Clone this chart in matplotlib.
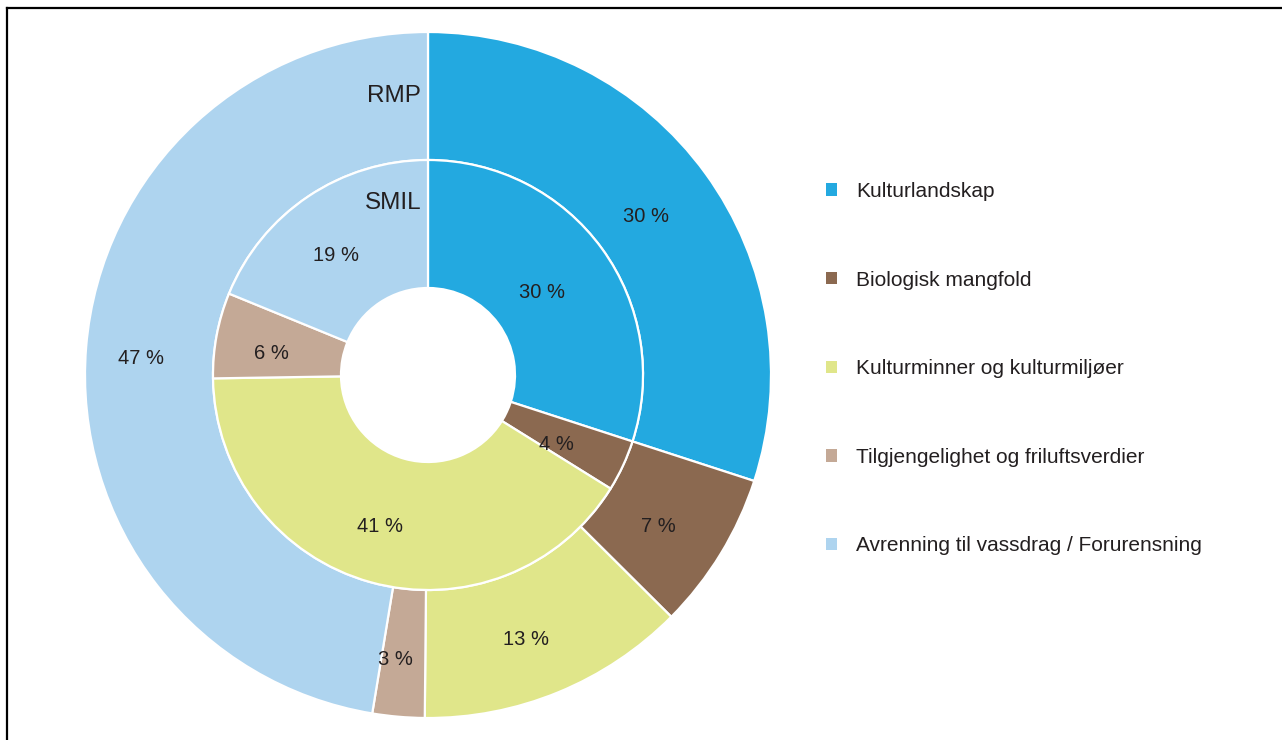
import numpy as np
import matplotlib.pyplot as plt
from matplotlib.patches import Patch
from matplotlib.lines import Line2D

plt.rcParams['font.family'] = ['Liberation Sans', 'DejaVu Sans']

categories = ['Kulturlandskap', 'Biologisk mangfold', 'Kulturminner og kulturmiljøer',
              'Tilgjengelighet og friluftsverdier', 'Avrenning til vassdrag / Forurensning']
# shares as drawn and the printed, rounded labels
rmp = [30.0, 7.45, 12.7, 2.45, 47.4]
rmp_labels = ['30 %', '7 %', '13 %', '3 %', '47 %']
smil = [30.0, 3.86, 40.89, 6.43, 18.82]
smil_labels = ['30 %', '4 %', '41 %', '6 %', '19 %']
colors = ['#23a9e0', '#8b6950', '#e0e68a', '#c4a996', '#aed4ef']
txt = '#231f20'

W, H = 1282, 740
fig = plt.figure(figsize=(W / 100, H / 100), dpi=100)

# pie axes: centre (428, 375) px, outer radius 343 px
cx, cy, R = 428, 375, 343
ax = fig.add_axes([(cx - R) / W, (H - cy - R) / H, 2 * R / W, 2 * R / H])

ring = (343 - 215) / 343
wedge = dict(width=ring, edgecolor='white', linewidth=1.6)
ax.pie(rmp, radius=1, colors=colors, startangle=90, counterclock=False, wedgeprops=wedge)
ax.pie(smil, radius=215 / 343, colors=colors, startangle=90, counterclock=False,
       wedgeprops=wedge)
ax.set_xlim(-1, 1)
ax.set_ylim(-1, 1)
ax.set_aspect('equal')
ax.axis('off')


def put_labels(vals, labels, r):
    start = 0
    for v, lab in zip(vals, labels):
        mid = (start + v / 2) / sum(vals) * 2 * np.pi
        ax.annotate(lab, (r * np.sin(mid), r * np.cos(mid)), xytext=(-8, -6),
                    textcoords='offset pixels', ha='center', va='center',
                    fontsize=14.5, color=txt)
        start += v


put_labels(rmp, rmp_labels, 0.815)
put_labels(smil, smil_labels, 0.44)

ax.text(-0.02, (375 - 96) / 343, 'RMP', ha='right', va='center', fontsize=17.5, color=txt)
ax.text(-0.02, (375 - 203) / 343, 'SMIL', ha='right', va='center', fontsize=17.5, color=txt)

handles = [Patch(facecolor=c, edgecolor='none') for c in colors]
fig.legend(handles, categories, loc='upper left', bbox_to_anchor=(826 / W, 1 - 182 / H),
           frameon=False, fontsize=15, handlelength=0.55, handleheight=0.55,
           handletextpad=0.9, labelspacing=3.34, borderpad=0, borderaxespad=0,
           labelcolor=txt)

# frame lines (top and left)
fig.add_artist(Line2D([6.5 / W, 1], [1 - 7.5 / H, 1 - 7.5 / H], color='black', lw=1.6,
                      transform=fig.transFigure))
fig.add_artist(Line2D([6.5 / W, 6.5 / W], [0, 1 - 7.5 / H], color='black', lw=1.6,
                      transform=fig.transFigure))

fig.savefig('out.png', dpi=100)
